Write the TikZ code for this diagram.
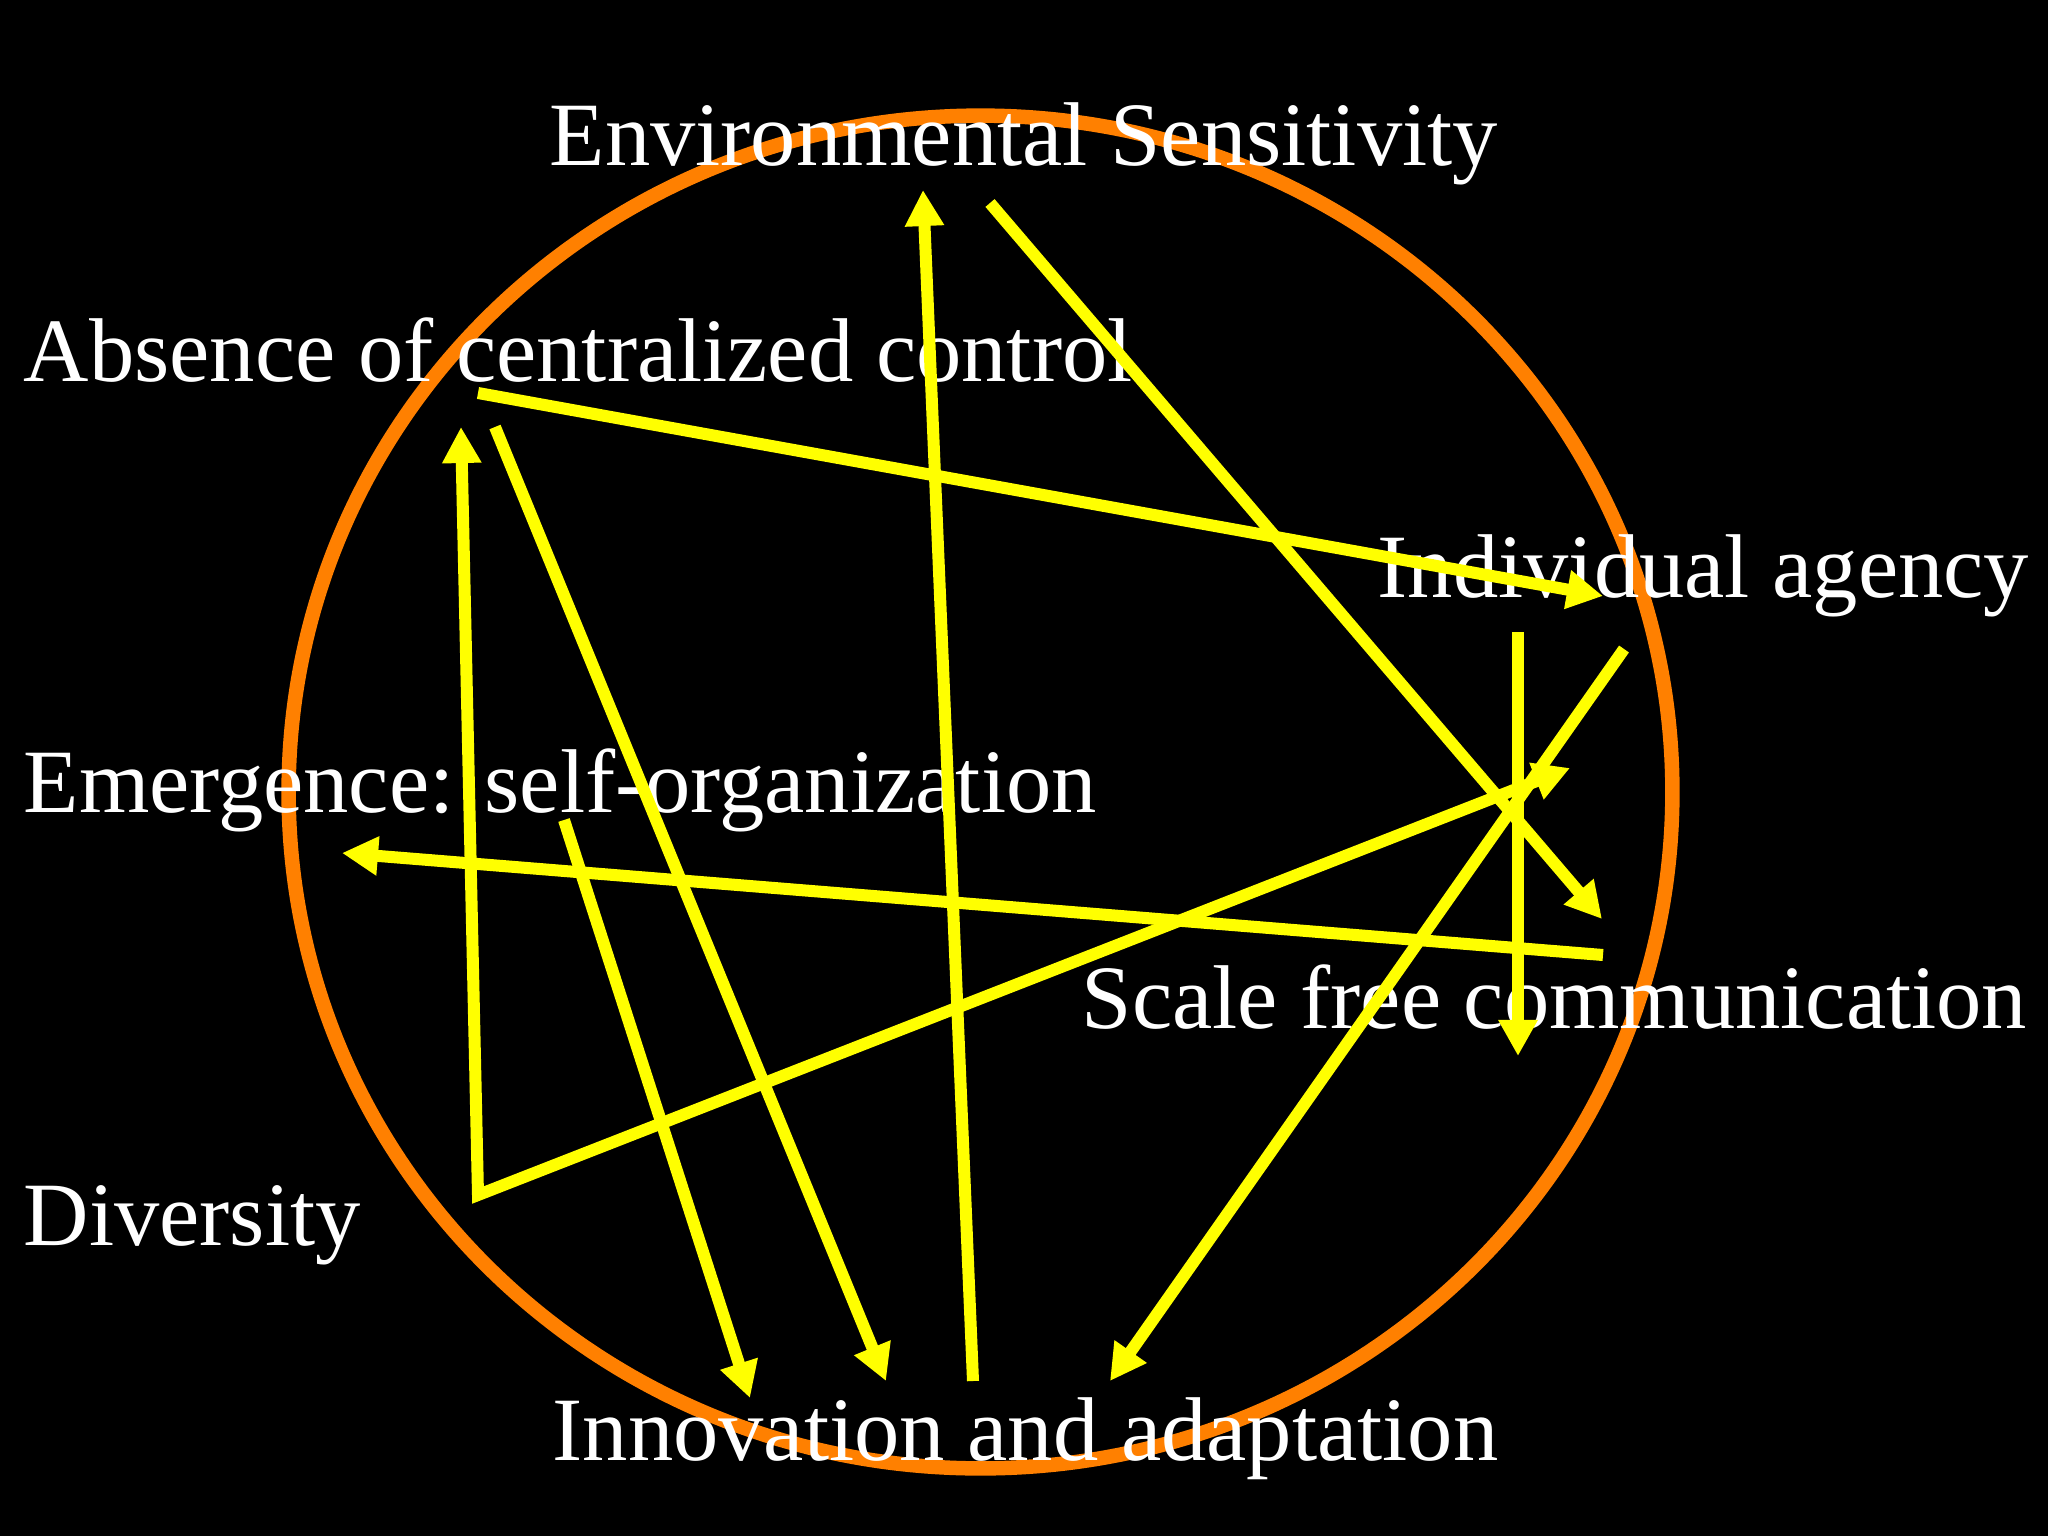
\documentclass[tikz,border=0pt]{standalone}
\usepackage{fontspec}
\setmainfont{Liberation Serif}
\usetikzlibrary{arrows.meta}
\definecolor{ring}{RGB}{255,128,0}
\definecolor{arrowyellow}{RGB}{255,255,0}
\begin{document}
\begin{tikzpicture}[x=0.01cm,y=-0.01cm,
  lbl/.style={text=white, anchor=base west, inner sep=0pt, font=\fontsize{25.75}{30}\selectfont},
  link/.style={draw=arrowyellow, line width=0.12cm, -{Triangle[length=0.36cm,width=0.37cm]}},
  dlink/.style={draw=arrowyellow, line width=0.12cm, {Triangle[length=0.36cm,width=0.37cm]}-{Triangle[length=0.36cm,width=0.37cm]}},
  ringline/.style={draw=ring, line width=0.145cm}]
\fill[black] (0,0) rectangle (2048,1536);
\useasboundingbox (0,0) rectangle (2048,1536);
\draw[ringline] (980.5,792) ellipse [x radius=6.915cm, y radius=6.76cm];
% labels
\node[lbl] (env) at (549,165) {Environmental Sensitivity};
\node[lbl] (abs) at (23,381) {Absence of centralized control};
\node[lbl] (ind) at (1377,597) {Individual agency};
\node[lbl] (emg) at (23,812) {Emergence: self-organization};
\node[lbl] (scl) at (1081,1028) {Scale free communication};
\node[lbl] (div) at (23,1245) {Diversity};
\node[lbl] (inn) at (552,1460) {Innovation and adaptation};
% endpoints
\coordinate (a1s) at (973,1381);  \coordinate (a1t) at (923,190);
\coordinate (a2s) at (990,203);   \coordinate (a2t) at (1602,919);
\coordinate (a3s) at (478,393);   \coordinate (a3t) at (1603,596);
\coordinate (dc)  at (478,1195);  \coordinate (a4t) at (461,427);  \coordinate (a5t) at (1570,768);
\coordinate (a6s) at (1624,649);  \coordinate (a6t) at (1110,1381);
\coordinate (a7s) at (1518,632);  \coordinate (a7t) at (1518,1056);
\coordinate (a8s) at (1603,955);  \coordinate (a8t) at (342,853);
\coordinate (a9s) at (564,820);   \coordinate (a9t) at (750,1398);
\coordinate (a10s) at (495,427);  \coordinate (a10t) at (886,1381);
% arrows
\draw[link] (a1s) -- (a1t);
\draw[link] (a2s) -- (a2t);
\draw[link] (a3s) -- (a3t);
\draw[dlink] (a4t) -- (dc) -- (a5t);
\draw[link] (a6s) -- (a6t);
\draw[link] (a7s) -- (a7t);
\draw[link] (a8s) -- (a8t);
\draw[link] (a9s) -- (a9t);
\draw[link] (a10s) -- (a10t);
\end{tikzpicture}
\end{document}
